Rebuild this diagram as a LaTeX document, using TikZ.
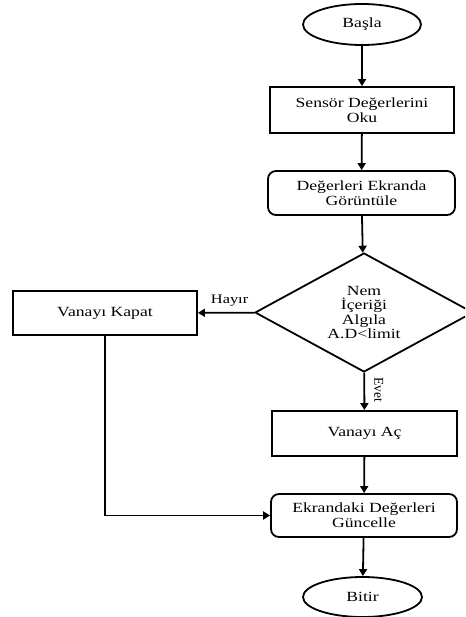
\documentclass[tikz,border=0pt]{standalone}
\usepackage{fontspec}
\setmainfont{Liberation Serif}[FakeStretch=1.26]
\newfontfamily\labelfont{Liberation Serif}
\usetikzlibrary{shapes.geometric,arrows.meta}

\begin{document}
\begin{tikzpicture}[x=1pt,y=-1pt,
  every node/.style={inner sep=0pt, align=center, font=\fontsize{14}{15}\selectfont},
  flow/.style={line width=1.8pt, -{Triangle[length=7pt,width=8pt]}},
  terminal/.style={draw, ellipse, line width=1.8pt, minimum width=118pt, minimum height=41pt},
  process/.style={draw, rectangle, line width=1.8pt, minimum width=185pt, minimum height=45pt},
  display/.style={process, rounded corners=8pt},
  decision/.style={draw, diamond, line width=1.8pt, aspect=1.83,
    minimum width=218pt, minimum height=119pt, font=\fontsize{14}{14.5}\selectfont},
  edgelabel/.style={font=\fontsize{13}{13}\selectfont},
  sidelabel/.style={font=\labelfont\fontsize{13.5}{13.5}\selectfont}]
\useasboundingbox (0,0) rectangle (465,617);
\clip (0,0) rectangle (465,617);

% flow steps
\node[terminal] (basla) at (362,24.5) {Başla};
\node[process, minimum width=184pt, minimum height=46pt] (sensor) at (362,110) {Sensör Değerlerini\\Oku};
\node[display, minimum width=187pt, minimum height=44pt] (ekran) at (361.5,193) {Değerleri Ekranda\\Görüntüle};
\node[decision] (karar) at (364,312.5) {Nem\\İçeriği\\Algıla\\A.D<limit};
\node[process, minimum width=184pt, minimum height=44pt] (kapat) at (105,313) {Vanayı Kapat};
\node[process] (ac) at (364.5,433.5) {Vanayı Aç};
\node[display, minimum width=186pt, minimum height=43pt] (guncelle) at (364,515.5) {Ekrandaki Değerleri\\Güncelle};
\node[terminal, minimum width=119pt, minimum height=40pt] (bitir) at (362.5,597) {Bitir};

% connectors
\draw[flow] (basla) -- (sensor);
\draw[flow] (sensor) -- (ekran);
\draw[flow] (ekran) -- (karar);
\draw[flow] (karar) -- node[edgelabel, pos=0.44, above=6pt] {Hayır} (kapat);
\draw[flow] (karar) -- node[sidelabel, pos=0.45, rotate=-90, anchor=south, outer ysep=10pt] {Evet} (ac);
\draw[flow] (ac) -- (guncelle);
\draw[flow] (kapat.south) |- (guncelle.west);
\draw[flow] (guncelle) -- (bitir);
\end{tikzpicture}
\end{document}
